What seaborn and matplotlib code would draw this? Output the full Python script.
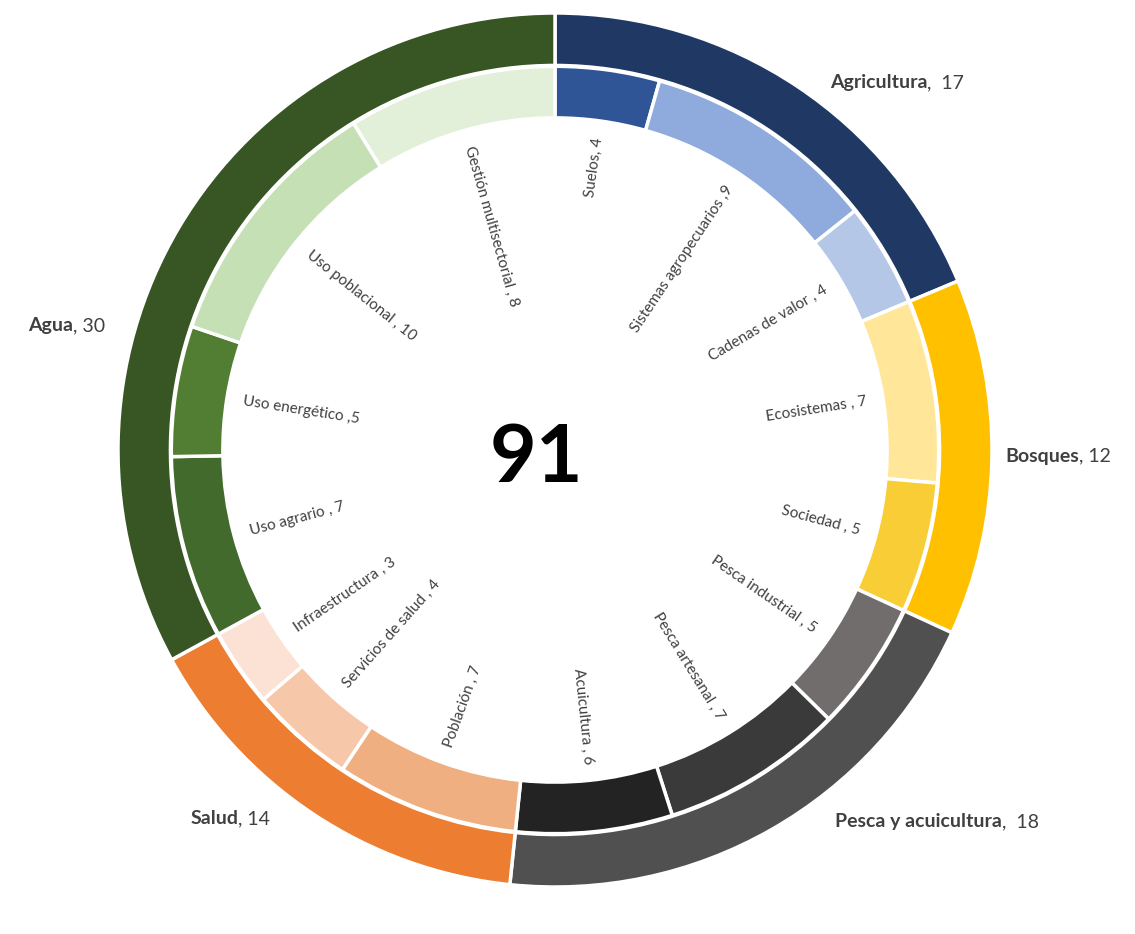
import numpy as np
import pandas as pd
import matplotlib
matplotlib.use("Agg")
import matplotlib.pyplot as plt
import seaborn as sns

# ---- data ----
groups = ["Agricultura", "Bosques", "Pesca y acuicultura", "Salud", "Agua"]
group_values = [17, 12, 18, 14, 30]
group_colors = ["#1F3864", "#FFC000", "#505050", "#ED7D31", "#375623"]

subgroups = ["Suelos", "Sistemas agropecuarios", "Cadenas de valor",
             "Ecosistemas", "Sociedad",
             "Pesca industrial", "Pesca artesanal", "Acuicultura",
             "Población", "Servicios de salud", "Infraestructura",
             "Uso agrario", "Uso energético", "Uso poblacional", "Gestión multisectorial"]
sub_values = [4, 9, 4, 7, 5, 5, 7, 6, 7, 4, 3, 7, 5, 10, 8]
sub_label_fmt = ["{}, {}", "{} ,{}", "{} , {}", "{} , {}", "{} , {}",
                 "{} , {}", "{} , {}", "{} , {}", "{} , {}", "{} , {}", "{} , {}",
                 "{} , {}", "{} ,{}", "{} , {}", "{} , {}"]
sub_colors = ["#2F5597", "#8FAADC", "#B4C7E7",
              "#FFE699", "#F9CD35",
              "#716D6C", "#3A3A3A", "#232323",
              "#F0AF80", "#F6C8A9", "#FBE2D4",
              "#416A2C", "#527E33", "#C5E0B4", "#E2F0D9"]
total = sum(group_values)

# outer label anchor positions (layout, data coords) and alignment
outer_label_pos = [(0.629, 0.840, "left"), (1.030, -0.014, "left"),
                   (0.641, -0.851, "left"), (-0.652, -0.844, "right"),
                   (-1.030, 0.284, "right")]
outer_sep = [",  ", ", ", ",  ", ", ", ", "]

sns.set_theme(style="white")
plt.rcParams["font.family"] = ["Lato", "DejaVu Sans"]

fig = plt.figure(figsize=(11.35, 9.34), dpi=100)
fig.patch.set_facecolor("white")
ax = fig.add_axes([118 / 1135, 47 / 934, 874 / 1135, 874 / 934])

ax.pie(group_values, radius=1.0, startangle=90, counterclock=False,
       colors=group_colors,
       wedgeprops=dict(width=0.12, edgecolor="white", linewidth=2.5))
wedges, _ = ax.pie(sub_values, radius=0.878, startangle=90, counterclock=False,
                   colors=sub_colors,
                   wedgeprops=dict(width=0.118, edgecolor="white", linewidth=2.5))
ax.set_xlim(-1, 1)
ax.set_ylim(-1, 1)
ax.set_aspect("equal", adjustable="box")
ax.axis("off")

# inner radial labels
cum = np.cumsum([0] + sub_values)
r_lab = 0.722
for i, (name, v) in enumerate(zip(subgroups, sub_values)):
    mid = (cum[i] + v / 2) / total
    theta = 90 - mid * 360
    th = (theta + 180) % 360 - 180
    x = r_lab * np.cos(np.radians(theta))
    y = r_lab * np.sin(np.radians(theta))
    if -90 <= th <= 90:
        rot, ha = th, "right"
    else:
        rot, ha = (th - 180 if th > 0 else th + 180), "left"
    ax.text(x, y, sub_label_fmt[i].format(name, v), rotation=rot,
            rotation_mode="anchor", ha=ha, va="center",
            fontsize=11, color="#404040")

# outer labels
for (name, v), (x, y, ha), sep in zip(zip(groups, group_values), outer_label_pos, outer_sep):
    if ha == "left":
        t = ax.text(x, y, name, ha="left", va="center", fontsize=14,
                    fontweight="bold", color="#404040")
        ax.annotate(f"{sep}{v}", xycoords=t, xy=(1, 0.5), va="center", ha="left",
                    fontsize=14, color="#404040")
    else:
        t = ax.text(x, y, f"{sep}{v}", ha="right", va="center", fontsize=14,
                    color="#404040")
        ax.annotate(name, xycoords=t, xy=(0, 0.5), va="center", ha="right",
                    fontsize=14, fontweight="bold", color="#404040")

ax.text(-0.043, -0.02, str(total), ha="center", va="center",
        fontsize=58, fontweight="bold", color="black")

fig.savefig("out.png", dpi=100, facecolor="white")
